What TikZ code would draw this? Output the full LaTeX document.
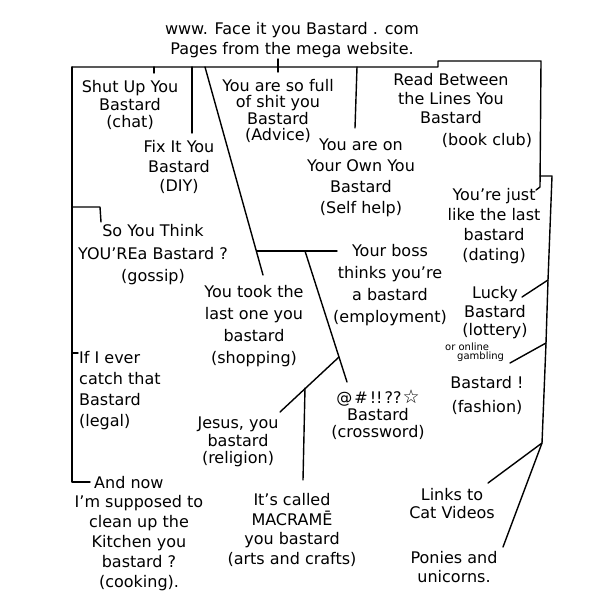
\documentclass[tikz,border=0pt]{standalone}
\usepackage{fontspec}
\setmainfont{DejaVu Sans}
\tikzset{
  lbl/.style={align=center, inner sep=0pt, font=\fontsize{16}{#1}\selectfont},
  lbl/.default=20,
  ln/.style={line width=1.4pt, line cap=round, line join=round}
}
\begin{document}
\begin{tikzpicture}[x=1pt,y=-1pt]
\useasboundingbox (0,0) rectangle (612,611);
% title
\node[lbl=20] (title) at (292,40) {www. Face it you Bastard . com\\Pages from the mega website.};
% texts
\node[lbl=17.5] (chat) at (130,105) {Shut Up You\\Bastard\\(chat)};
\node[lbl=16.5] (advice) at (278,111) {You are so full\\of shit you\\Bastard\\(Advice)};
\node[lbl=19] (book) at (451,99) {Read Between\\the Lines You\\Bastard};
\node[lbl] (bookc) at (487,140) {(book club)};
\node[lbl=19.5] (diy) at (179,167) {Fix It You\\Bastard\\(DIY)};
\node[lbl=21] (self) at (361,178) {You are on\\Your Own You\\Bastard\\(Self help)};
\node[lbl=20] (dating) at (494,226) {You're just\\like the last\\bastard\\(dating)};
\node[lbl=22.5] (gossip) at (153,255) {So You Think\\YOU'REa Bastard ?\\(gossip)};
\node[lbl=22] (employ) at (390,285) {Your boss\\thinks you're\\a bastard\\(employment)};
\node[lbl=22] (shop) at (254,326) {You took the\\last one you\\bastard\\(shopping)};
\node[lbl=18.5] (lottery) at (495,313) {Lucky\\Bastard\\(lottery)};
\node[align=left, inner sep=0pt, font=\fontsize{10}{9}\selectfont, anchor=west] (gamb) at (445,352) {or online\\\hspace*{12pt}gambling};
\node[lbl=24] (fashion) at (487,395) {Bastard !\\(fashion)};
\node[align=left, inner sep=0pt, font=\fontsize{16}{21}\selectfont, anchor=west] (legal) at (79,391) {If I ever\\catch that\\Bastard\\(legal)};
\node[lbl=17] (cross) at (378,415) {@\hspace{2pt}\#\hspace{2pt}!!\hspace{2pt}??\hspace{1pt}{\fontsize{19}{19}\selectfont ☆}\\Bastard\\(crossword)};
\node[lbl=17.5] (relig) at (238,442) {Jesus, you\\bastard\\(religion)};
\node[lbl, anchor=west] (andnow) at (94,483) {And now};
\node[lbl=20] (cook) at (139,543) {I'm supposed to\\clean up the\\Kitchen you\\bastard ?\\(cooking).};
\node[lbl=19.5] (macrame) at (292,530) {It's called\\MACRAMĒ\\you bastard\\(arts and crafts)};
\node[lbl=18] (cat) at (452,504) {Links to\\Cat Videos};
\node[lbl=19] (pony) at (454,567) {Ponies and\\unicorns.};
% junction coordinates
\coordinate (tl) at (72,67);
\coordinate (ts) at (438,67);
\coordinate (tsu) at (438,61);
\coordinate (tr) at (541,61);
\coordinate (tt1) at (278,59);
\coordinate (tt2) at (278,72);
\coordinate (tc1) at (154,67);
\coordinate (tc2) at (154,73);
\coordinate (lb) at (72,482);
\coordinate (lbe) at (90,482);
\coordinate (g1) at (72,207);
\coordinate (g2) at (100,207);
\coordinate (g3) at (101,222);
\coordinate (le1) at (72,353);
\coordinate (le2) at (78,353);
\coordinate (d1) at (192,67);
\coordinate (d2) at (192,133);
\coordinate (s1) at (205,67);
\coordinate (s2) at (263,275);
\coordinate (h1) at (257,251);
\coordinate (h2) at (337,251);
\coordinate (c1) at (305,251);
\coordinate (cm) at (339,357);
\coordinate (c2) at (347,382);
\coordinate (r2) at (280,412);
\coordinate (m1) at (305,388);
\coordinate (m2) at (303,480);
\coordinate (sh1) at (357,67);
\coordinate (sh2) at (355,128);
\coordinate (rd) at (540,187);
\coordinate (rdh) at (536,190);
\coordinate (rb) at (540,176);
\coordinate (rb2) at (552,176);
\coordinate (rl) at (548,280);
\coordinate (rle) at (522,297);
\coordinate (rg) at (546,343);
\coordinate (rge) at (510,363);
\coordinate (rf) at (542,443);
\coordinate (rce) at (488,483);
\coordinate (rpe) at (503,547);
% lines
\draw[ln] (tl) -- (ts) -- (tsu) -- (tr) -- (rd) -- (rdh);
\draw[ln] (tt1) -- (tt2);
\draw[ln] (tc1) -- (tc2);
\draw[ln] (tl) -- (lb) -- (lbe);
\draw[ln] (g1) -- (g2) -- (g3);
\draw[ln] (le1) -- (le2);
\draw[ln] (d1) -- (d2);
\draw[ln] (s1) -- (s2);
\draw[ln] (h1) -- (h2);
\draw[ln] (c1) -- (c2);
\draw[ln] (cm) -- (r2);
\draw[ln] (m1) -- (m2);
\draw[ln] (sh1) -- (sh2);
\draw[ln] (rb) -- (rb2) -- (rl) -- (rg) -- (rf) -- (rpe);
\draw[ln] (rl) -- (rle);
\draw[ln] (rg) -- (rge);
\draw[ln] (rf) -- (rce);
\end{tikzpicture}
\end{document}
